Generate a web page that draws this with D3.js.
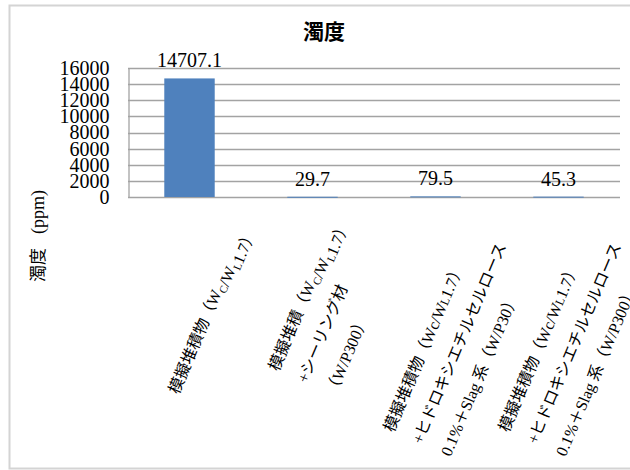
<!DOCTYPE html>
<html>
<head>
<meta charset="utf-8">
<script src="https://cdn.jsdelivr.net/npm/d3@7"></script>
<style>
  html, body { margin: 0; padding: 0; background: #fff; }
  svg { display: block; }
</style>
</head>
<body>
<svg id="chart" width="630" height="470"></svg>
<script>
// Turbidity per sample. "_X" marks a lowered subscript, "~X" a small inline letter,
// "\n" starts a new label line.
const categories = [
  "模擬堆積物（W_C/W_L1.7）",
  "模擬堆積（W_C/W_L1.7）\n+シーリング材\n（W/P300）",
  "模擬堆積物（Wc/W~L1.7）\n+ヒドロキシエチルセルロース\n0.1%＋Slag 系（W/P30）",
  "模擬堆積物（Wc/W~L1.7）\n+ヒドロキシエチルセルロース\n0.1%＋Slag 系（W/P300）"
];
const turbidity = [14707.1, 29.7, 79.5, 45.3];
const yTicks = [0, 2000, 4000, 6000, 8000, 10000, 12000, 14000, 16000];
const valueLabels = ["14707.1", "29.7", "79.5", "45.3"];
const chartTitle = "濁度";
const yTitleName = "濁度";
const yTitleUnit = "(ppm)";

const SERIF = '"Liberation Serif", "Noto Sans CJK JP", serif';
const CJK = '"Noto Sans CJK JP", sans-serif';

const svg = d3.select("#chart");

// outer chart frame (right edge runs off the page)
svg.append("rect")
  .attr("x", 9.5).attr("y", 5.5)
  .attr("width", 660).attr("height", 463)
  .attr("fill", "#fff")
  .attr("stroke", "#d4d4d4").attr("stroke-width", 2);

const plot = { left: 128, right: 620, top: 68, bottom: 197 };

const x = d3.scaleBand()
  .domain(d3.range(categories.length))
  .range([plot.left, plot.right])
  .paddingInner(0.59)
  .paddingOuter(0.295);

const y = d3.scaleLinear()
  .domain([0, 16000])
  .range([plot.bottom, plot.top]);

// horizontal gridlines
svg.append("g")
  .selectAll("line")
  .data(yTicks)
  .join("line")
  .attr("x1", plot.left).attr("x2", plot.right)
  .attr("y1", d => Math.round(y(d)) + 0.5)
  .attr("y2", d => Math.round(y(d)) + 0.5)
  .attr("stroke", "#a3a3a3").attr("stroke-width", 1.3);

// value axis
const yAxis = d3.axisLeft(y).tickValues(yTicks).tickSize(0).tickPadding(19)
  .tickFormat(d => String(d));
const yg = svg.append("g")
  .attr("transform", `translate(${plot.left + 0.5},0)`)
  .call(yAxis);
yg.select(".domain").attr("stroke", "#a3a3a3").attr("stroke-width", 1.3);
yg.selectAll("text")
  .style("font-family", SERIF)
  .style("font-size", "20px")
  .attr("fill", "#000");

// bars
svg.append("g")
  .selectAll("rect")
  .data(turbidity)
  .join("rect")
  .attr("x", (d, i) => x(i))
  .attr("width", x.bandwidth())
  .attr("y", d => y(d))
  .attr("height", d => Math.max(1, y(0) - y(d)))
  .attr("fill", "#4f81bd");

// value labels above each bar
svg.append("g")
  .selectAll("text")
  .data(turbidity)
  .join("text")
  .attr("x", (d, i) => x(i) + x.bandwidth() / 2)
  .attr("y", d => y(d) - 11)
  .attr("text-anchor", "middle")
  .style("font-family", SERIF)
  .style("font-size", "20px")
  .attr("fill", "#000")
  .text((d, i) => valueLabels[i]);

// title
svg.append("text")
  .attr("x", 324).attr("y", 39)
  .attr("text-anchor", "middle")
  .style("font-family", CJK)
  .style("font-weight", "bold")
  .style("font-size", "21px")
  .text(chartTitle);

// value axis title: name and unit set as two runs reading upward
const yTitle = svg.append("g").attr("transform", "translate(44,0) rotate(-90)");
yTitle.append("text")
  .attr("x", -282).attr("y", 0)
  .style("font-family", CJK)
  .style("font-size", "17px")
  .text(yTitleName);
yTitle.append("text")
  .attr("x", -234).attr("y", 0)
  .style("font-family", SERIF)
  .style("font-size", "18px")
  .text(yTitleUnit);

// rotated, multi-line category labels
const labelAngle = -67;
const lineGap = 31;
const labelShift = [-11, -34, -42, -50];   // start of first line relative to band centre
const labelTop = [395, 372, 433, 433];

function addRich(textSel, str) {
  const re = /([_~])(.)|([^_~]+)/g;
  let m;
  while ((m = re.exec(str)) !== null) {
    if (m[3]) {
      textSel.append("tspan").text(m[3]);
    } else if (m[1] === "_") {
      textSel.append("tspan").style("font-size", "11px").attr("dy", 4).text(m[2]);
      textSel.append("tspan").attr("dy", -4).text("");
    } else {
      textSel.append("tspan").style("font-size", "12px").text(m[2]);
    }
  }
}

const lg = svg.append("g")
  .selectAll("g")
  .data(categories)
  .join("g")
  .attr("transform", (d, i) =>
    `translate(${x(i) + x.bandwidth() / 2 + labelShift[i]},${labelTop[i]}) rotate(${labelAngle})`);

lg.each(function (d) {
  const g = d3.select(this);
  d.split("\n").forEach((line, k) => {
    const t = g.append("text")
      .attr("x", 0).attr("y", k * lineGap)
      .style("font-family", SERIF)
      .style("font-size", "16px")
      .attr("fill", "#000");
    addRich(t, line);
  });
});
</script>
</body>
</html>
